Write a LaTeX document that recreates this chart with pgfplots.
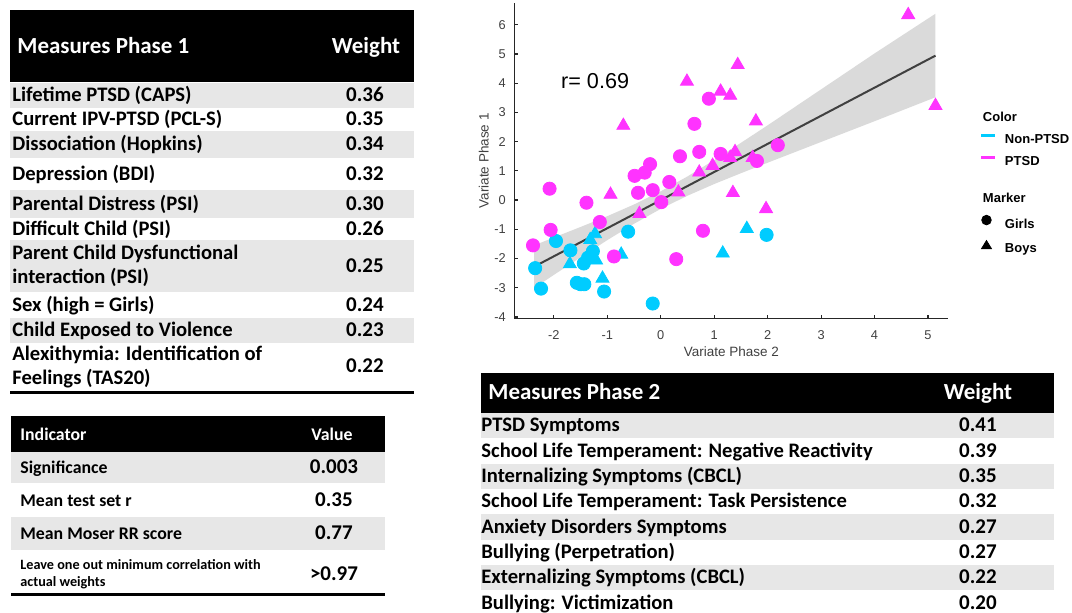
\documentclass[border=0pt]{standalone}
\usepackage{pgfplots}
\pgfplotsset{compat=1.18}
\usepackage{fontspec}
\setmainfont{Carlito}
\newfontfamily\arialf{Liberation Sans}

\definecolor{cyanP}{RGB}{0,204,255}
\definecolor{magP}{RGB}{255,51,255}
\definecolor{band}{RGB}{218,218,218}
\definecolor{rowgray}{RGB}{231,231,231}
\definecolor{axgray}{RGB}{64,64,64}

% fonts (picture unit: 1px = 0.5pt)
\newcommand{\hdrfont}{\fontsize{11.5}{13}\selectfont\bfseries}
\newcommand{\rowfont}{\fontsize{10.3}{12}\selectfont\bfseries}
\newcommand{\valfont}{\fontsize{10.5}{12}\selectfont\bfseries}

\tikzset{capbox/.style={inner sep=0pt, text height=0.644em, text depth=0pt}}

% table rows: top, bottom, fill, label, value
\newcommand{\rowA}[5]{%
  \fill[#3] (10,#1) rectangle (414,#2);
  \node[anchor=west, capbox, font=\rowfont] at (12,{(#1+#2)/2}) {#4};
  \node[capbox, font=\valfont] at (365,{(#1+#2)/2}) {#5};}
\newcommand{\rowAA}[5]{%
  \fill[#3] (10,#1) rectangle (414,#2);
  \node[anchor=west, align=left, font=\rowfont, inner sep=0pt] at (12,{(#1+#2)/2}) {#4};
  \node[capbox, font=\valfont] at (365,{(#1+#2)/2}) {#5};}
\newcommand{\rowB}[5]{%
  \fill[#3] (11,#1) rectangle (385,#2);
  \node[anchor=west, capbox, font=\fontsize{8.9}{10}\selectfont\bfseries] at (20,{(#1+#2)/2}) {#4};
  \node[capbox, font=\valfont] at (334,{(#1+#2)/2}) {#5};}
\newcommand{\rowC}[5]{%
  \fill[#3] (481,#1) rectangle (1054,#2);
  \node[anchor=west, capbox, font=\rowfont] at (481,{(#1+#2)/2}) {#4};
  \node[capbox, font=\valfont] at (978,{(#1+#2)/2}) {#5};}

\begin{document}
\begin{tikzpicture}[x=0.5pt,y=-0.5pt]
\path[use as bounding box] (0,0) rectangle (1072,612);
\coordinate (axorigin) at (514.3,318.7);

% ---- Measures Phase 1
\fill[black] (10,10) rectangle (414,82);
\node[anchor=west, text=white, font=\hdrfont, capbox] at (17,47) {Measures Phase 1};
\node[text=white, font=\hdrfont, capbox] at (366,47) {Weight};
\rowA{83}{108}{rowgray}{Lifetime PTSD (CAPS)}{0.36}
\rowA{108}{131}{white}{Current IPV-PTSD (PCL-S)}{0.35}
\rowA{131}{158}{rowgray}{Dissociation (Hopkins)}{0.34}
\rowA{158}{190}{white}{Depression (BDI)}{0.32}
\rowA{190}{218}{rowgray}{Parental Distress (PSI)}{0.30}
\rowA{218}{240}{white}{Difficult Child (PSI)}{0.26}
\rowAA{240}{292}{rowgray}{Parent Child Dysfunctional\\interaction (PSI)}{0.25}
\rowA{292}{318}{white}{Sex (high = Girls)}{0.24}
\rowA{318}{343}{rowgray}{Child Exposed to Violence}{0.23}
\rowAA{343}{390}{white}{Alexithymia: Identification of\\Feelings (TAS20)}{0.22}
\draw[line width=1.5pt] (10,392) -- (414,392);

% ---- Indicator table
\fill[black] (11,416) rectangle (385,452);
\node[anchor=west, text=white, font=\fontsize{8.9}{10}\selectfont\bfseries, capbox] at (20,434) {Indicator};
\node[text=white, font=\fontsize{8.9}{10}\selectfont\bfseries, capbox] at (332,434) {Value};
\rowB{452}{483}{rowgray}{Significance}{0.003}
\rowB{483}{517}{white}{Mean test set r}{0.35}
\rowB{517}{550}{rowgray}{Mean Moser RR score}{0.77}
\node[anchor=west, align=left, font=\fontsize{7.1}{8.5}\selectfont\bfseries, inner sep=0pt] at (20,574) {Leave one out minimum correlation with\\actual weights};
\node[capbox, font=\valfont] at (334,574) {>0.97};
\draw[line width=1.5pt] (11,594) -- (385,594);

% ---- Measures Phase 2
\fill[black] (481,373) rectangle (1054,413);
\node[anchor=west, text=white, font=\hdrfont, capbox] at (488,393) {Measures Phase 2};
\node[text=white, font=\hdrfont, capbox] at (978,393) {Weight};
\rowC{413}{438}{rowgray}{PTSD Symptoms}{0.41}
\rowC{438}{464}{white}{School Life Temperament: Negative Reactivity}{0.39}
\rowC{464}{489}{rowgray}{Internalizing Symptoms (CBCL)}{0.35}
\rowC{489}{514}{white}{School Life Temperament: Task Persistence}{0.32}
\rowC{514}{540}{rowgray}{Anxiety Disorders Symptoms}{0.27}
\rowC{540}{565}{white}{Bullying (Perpetration)}{0.27}
\rowC{565}{590}{rowgray}{Externalizing Symptoms (CBCL)}{0.22}
\rowC{590}{616}{white}{Bullying: Victimization}{0.20}

% ---- scatter
\begin{axis}[
    at={(axorigin)}, anchor=south west,
    scale only axis, width=217pt, height=157.9pt,
    xmin=-2.74, xmax=5.38, ymin=-4.06, ymax=6.75,
    axis x line*=bottom, axis y line*=left,
    axis line style={black!85, line width=0.6pt},
    xtick={-2,...,5}, ytick={-4,...,6},
    tick align=inside, major tick length=2pt,
    tick style={black!85, line width=0.6pt},
    /pgf/number format/assume math mode=true,
    ticklabel style={font=\fontsize{6.4}{7.5}\selectfont\arialf, text=axgray},
    xticklabel style={yshift=-2.3pt},
    yticklabel style={xshift=-0.8pt},
    xlabel={Variate Phase 2}, ylabel={Variate Phase 1},
    label style={font=\fontsize{6.75}{8}\selectfont\arialf, text=axgray},
    xlabel style={at={(axis description cs:0.5,-0.105)}, anchor=center},
    ylabel style={at={(axis description cs:-0.07,0.5)}, anchor=center},
    clip=false,
    legend style={at={(axis description cs:1.073,0.655)}, anchor=north west,
      draw=none, fill=none, inner sep=0pt, outer sep=0pt,
      font=\fontsize{6.5}{7.5}\selectfont\arialf\bfseries,
      row sep=4.5pt, column sep=4pt,
      nodes={inner sep=0pt, text height=5pt, text depth=1.5pt}},
    legend cell align=left,
  ]
\addplot[fill=band, draw=none, forget plot] coordinates {
  (-2.37,-1.55) (-2,-1.28) (-1.5,-0.92) (-1,-0.55) (-0.5,-0.15) (0,0.30)
  (0.5,0.81) (1,1.37) (1.5,1.96) (2,2.56) (3,3.79) (4,5.02) (5.14,6.38)
  (5.14,3.52) (4,2.70) (3,1.99) (2,1.28) (1.5,0.92) (1,0.55) (0.5,0.15)
  (0,-0.30) (-0.5,-0.81) (-1,-1.37) (-1.5,-1.96) (-2,-2.56) (-2.37,-3.01)
} -- cycle;
\addplot[axgray, line width=1pt, forget plot] coordinates {(-2.37,-2.28) (5.14,4.945)};

% Non-PTSD girls
\addplot[only marks, mark=*, mark size=3.3pt, color=cyanP, forget plot] coordinates {
  (-2.35,-2.33) (-2.24,-3.03) (-1.96,-1.40) (-1.69,-1.72) (-1.57,-2.83)
  (-1.50,-2.88) (-1.43,-2.88) (-1.44,-2.17) (-1.36,-1.97) (-1.27,-1.75)
  (-1.06,-3.13) (-0.61,-1.08) (-0.15,-3.54) (1.98,-1.19)};
% Non-PTSD boys
\addplot[only marks, mark=triangle*, mark size=3.75pt, color=cyanP, forget plot] coordinates {
  (-1.70,-2.19) (-1.32,-1.36) (-1.23,-1.16) (-1.21,-2.06) (-1.09,-2.68)
  (-0.74,-1.86) (1.16,-1.82) (1.61,-0.98)};
% PTSD girls
\addplot[only marks, mark=*, mark size=3.3pt, color=magP, forget plot] coordinates {
  (-2.39,-1.55) (-2.08,0.39) (-2.06,-1.02) (-1.39,-0.09) (-1.14,-0.75)
  (-0.875,-1.93) (-0.49,0.83) (-0.425,0.25) (-0.30,0.94) (-0.20,1.23)
  (-0.15,0.34) (0.01,-0.07) (0.16,0.62) (0.29,-2.02) (0.36,1.50)
  (0.72,1.65) (0.79,-1.05) (1.12,1.58) (1.80,1.34) (2.19,1.88)
  (0.90,3.47) (0.63,2.61)};
% PTSD boys
\addplot[only marks, mark=triangle*, mark size=3.75pt, color=magP, forget plot] coordinates {
  (-0.94,0.19) (-0.40,-0.47) (0.33,0.27) (0.72,0.95) (0.97,1.18)
  (1.30,1.45) (1.39,1.65) (1.35,0.25) (1.72,1.45) (1.97,-0.30)
  (-0.70,2.55) (0.49,4.06) (1.12,3.72) (1.30,3.58) (1.44,4.63)
  (1.78,2.70) (4.63,6.34) (5.14,3.23)};

\node[anchor=west, font=\fontsize{10.8}{12}\selectfont\arialf, inner sep=0pt] at (axis cs:-1.87,4.06) {r= 0.69};

% legend
\addlegendimage{empty legend}
\addlegendentry{\hspace*{-11pt}Color}
\addlegendimage{legend image code/.code={\draw[cyanP, line width=1.5pt] (0pt,2.3pt) -- (7pt,2.3pt);}}
\addlegendentry{Non-PTSD}
\addlegendimage{legend image code/.code={\draw[magP, line width=1.5pt] (0pt,2.3pt) -- (7pt,2.3pt);}}
\addlegendentry{PTSD}
\addlegendimage{empty legend}
\addlegendentry[text height=3pt, text depth=0pt]{}
\addlegendimage{empty legend}
\addlegendentry{\hspace*{-11pt}Marker}
\addlegendimage{legend image code/.code={\fill[black] (2.5pt,2.3pt) circle (2.4pt);}}
\addlegendentry{Girls}
\addlegendimage{legend image code/.code={\fill[black] (0pt,0.3pt) -- (5pt,0.3pt) -- (2.5pt,4.4pt) -- cycle;}}
\addlegendentry{Boys}
\end{axis}
\end{tikzpicture}
\end{document}
